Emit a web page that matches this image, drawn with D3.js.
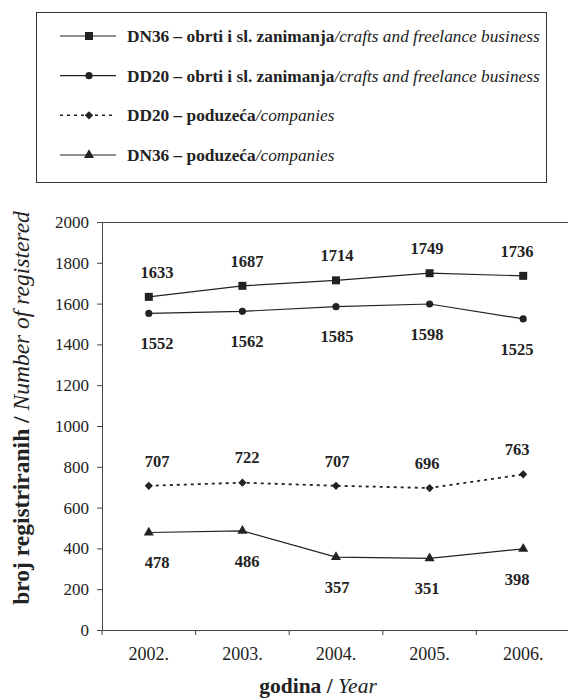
<!DOCTYPE html>
<html>
<head>
<meta charset="utf-8">
<script src="https://cdn.jsdelivr.net/npm/d3@7"></script>
<style>
  body { margin: 0; background: #fff; }
  svg text { font-family: "Liberation Serif", "Times New Roman", serif; fill: #222; }
</style>
</head>
<body>
<script>
// years on the x axis
var years = ["2002.", "2003.", "2004.", "2005.", "2006."];

// series values
var dn36Obrti = [1633, 1687, 1714, 1749, 1736];
var dd20Obrti = [1552, 1562, 1585, 1598, 1525];
var dd20Poduzeca = [707, 722, 707, 696, 763];
var dn36Poduzeca = [478, 486, 357, 351, 398];

var yTicks = [0, 200, 400, 600, 800, 1000, 1200, 1400, 1600, 1800, 2000];

var seriesNames = [
  ["DN36 – obrti i sl. zanimanja", "crafts and freelance business"],
  ["DD20 – obrti i sl. zanimanja", "crafts and freelance business"],
  ["DD20 – poduzeća", "companies"],
  ["DN36 – poduzeća", "companies"]
];

var series = [
  { name: seriesNames[0], values: dn36Obrti, symbol: d3.symbolSquare, size: 64, rot: 0, dash: null, labelDy: -25 },
  { name: seriesNames[1], values: dd20Obrti, symbol: d3.symbolCircle, size: 40, rot: 0, dash: null, labelDy: 30 },
  { name: seriesNames[2], values: dd20Poduzeca, symbol: d3.symbolSquare, size: 34, rot: 45, dash: "3,4", labelDy: -25 },
  { name: seriesNames[3], values: dn36Poduzeca, symbol: d3.symbolTriangle, size: 44, rot: 0, dash: null, labelDy: 30 }
];

var W = 568, H = 698;
var svg = d3.select("body").append("svg")
  .attr("width", W)
  .attr("height", H);

var ink = "#222";

// legend box
var legend = svg.append("g");
legend.append("rect")
  .attr("x", 36.5).attr("y", 12.5)
  .attr("width", 510).attr("height", 170)
  .attr("fill", "none").attr("stroke", "#333").attr("stroke-width", 1);

var legendY = d3.scalePoint().domain(d3.range(series.length)).range([36, 155]);

series.forEach(function(s, i) {
  var ly = legendY(i);
  legend.append("line")
    .attr("x1", 60).attr("x2", 116).attr("y1", ly).attr("y2", ly)
    .attr("stroke", ink)
    .attr("stroke-width", s.dash ? 1.5 : 1.2)
    .attr("stroke-dasharray", s.dash);
  legend.append("path")
    .attr("d", d3.symbol(s.symbol, s.size)())
    .attr("transform", "translate(89," + ly + ") rotate(" + s.rot + ")")
    .attr("fill", ink);
  var t = legend.append("text")
    .attr("x", 127).attr("y", ly + 6)
    .style("font-size", "17.3px");
  t.append("tspan").style("font-weight", "bold").text(s.name[0]);
  t.append("tspan").style("font-style", "italic").text("/" + s.name[1]);
});

// plot area
var plotL = 102, plotR = 570, plotT = 222, plotB = 630;

var x = d3.scaleBand().domain(years).range([plotL, plotR]);
var xLabel = d3.scalePoint().domain(years).range([157, 517]);
var y = d3.scaleLinear().domain([0, 2000]).range([plotB, plotT]);

// top border of plot
svg.append("line")
  .attr("x1", plotL).attr("x2", W).attr("y1", plotT + 0.5).attr("y2", plotT + 0.5)
  .attr("stroke", "#444");

var yAxis = svg.append("g")
  .attr("transform", "translate(" + plotL + ",0)")
  .call(d3.axisLeft(y).tickValues(yTicks).tickSize(5).tickPadding(8).tickFormat(d3.format("d")));

var xAxis = svg.append("g")
  .attr("transform", "translate(0," + plotB + ")")
  .call(d3.axisBottom(x).tickSize(0).tickPadding(17));

xAxis.selectAll(".xt").data(d3.range(years.length + 1)).enter().append("line")
  .attr("x1", function(i) { return plotL + i * x.step(); })
  .attr("x2", function(i) { return plotL + i * x.step(); })
  .attr("y1", 0).attr("y2", 5)
  .attr("stroke", "#444");

yAxis.selectAll("text").style("font-size", "17px");
xAxis.selectAll("text").style("font-size", "18px");
[yAxis, xAxis].forEach(function(a) {
  a.select(".domain").attr("stroke", "#444");
  a.selectAll(".tick line").attr("stroke", "#444");
  a.selectAll("text")
    .style("font-family", "'Liberation Serif', serif")
    .attr("fill", ink);
});

// lines, markers and labels
var line = d3.line()
  .x(function(d, i) { return x(years[i]) + x.bandwidth() / 2; })
  .y(function(d) { return y(d); });

series.forEach(function(s) {
  svg.append("path")
    .datum(s.values)
    .attr("d", line)
    .attr("fill", "none")
    .attr("stroke", ink)
    .attr("stroke-width", s.dash ? 1.8 : 1.2)
    .attr("stroke-dasharray", s.dash);

  svg.selectAll(null).data(s.values).enter().append("path")
    .attr("d", d3.symbol(s.symbol, s.size)())
    .attr("transform", function(d, i) {
      return "translate(" + (x(years[i]) + x.bandwidth() / 2) + "," + y(d) + ") rotate(" + s.rot + ")";
    })
    .attr("fill", ink);

  svg.selectAll(null).data(s.values).enter().append("text")
    .attr("x", function(d, i) { return xLabel(years[i]); })
    .attr("y", function(d) { return y(d) + s.labelDy; })
    .attr("dy", "0.35em")
    .attr("text-anchor", "middle")
    .style("font-size", "16.5px")
    .style("font-weight", "bold")
    .text(function(d) { return d; });
});

// axis titles
var xt = svg.append("text")
  .attr("x", 318).attr("y", 693)
  .attr("text-anchor", "middle")
  .style("font-size", "21.5px");
xt.append("tspan").style("font-weight", "bold").text("godina / ");
xt.append("tspan").style("font-style", "italic").text("Year");

var yt = svg.append("text")
  .attr("transform", "translate(29,408) rotate(-90)")
  .attr("text-anchor", "middle")
  .style("font-size", "23.5px");
yt.append("tspan").style("font-weight", "bold").text("broj registriranih / ");
yt.append("tspan").style("font-style", "italic").text("Number of registered");
</script>
</body>
</html>
